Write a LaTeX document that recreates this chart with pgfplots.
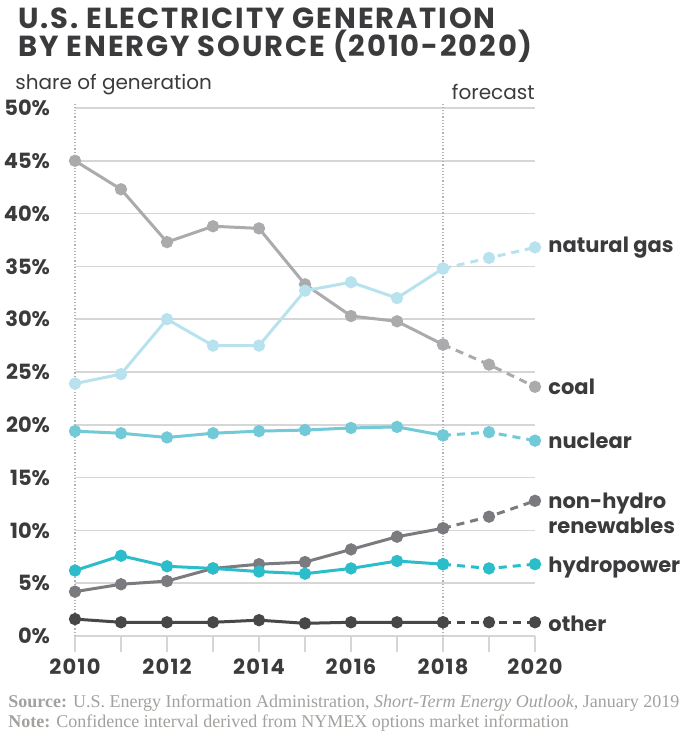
\documentclass[border=0pt]{standalone}
\usepackage{fontspec}
\setmainfont{Poppins}
\newfontfamily\titlefont[LetterSpace=6.5]{Poppins}
\newfontfamily\srcfont{Liberation Serif}
\usepackage{pgfplots}
\pgfplotsset{compat=1.18}

\definecolor{txt}{HTML}{3B3B3D}
\definecolor{gridc}{HTML}{D6D6D6}
\definecolor{srcc}{HTML}{A3A09D}
\definecolor{coalc}{HTML}{ABABAE}
\definecolor{gasc}{HTML}{B8E2EE}
\definecolor{nucc}{HTML}{72C9D8}
\definecolor{hydc}{HTML}{2BBDCA}
\definecolor{renc}{HTML}{7B7B7F}
\definecolor{othc}{HTML}{47474A}

\pgfplotsset{
  hist/.style={line width=1.5pt, mark=*, mark size=2.3pt, mark options={solid}},
  fc/.style={line width=1.5pt, mark=*, mark size=2.3pt, mark options={solid}, dash pattern=on 4pt off 3pt},
}

\begin{document}
\begin{tikzpicture}
\begin{axis}[
  at={(0,0)}, anchor=south west,
  scale only axis, width=230pt, height=264pt,
  xmin=2010, xmax=2020, ymin=0, ymax=50,
  clip=false,
  axis line style={draw=none},
  ymajorgrids, grid style={color=gridc, line width=0.8pt},
  ytick={0,5,...,50},
  yticklabels={0\%,5\%,10\%,15\%,20\%,25\%,30\%,35\%,40\%,45\%,50\%},
  ytick style={draw=none}, ytick pos=left,
  yticklabel style={xshift=-1pt},
  xtick={2010,2012,2014,2016,2018,2020},
  xticklabels={2010,2012,2014,2016,2018,2020},
  minor xtick={2011,2013,2015,2017,2019},
  xtick pos=bottom, tick align=outside,
  major tick length=8pt, minor tick length=8pt,
  xtick style={draw=gridc, line width=0.8pt},
  minor x tick style={draw=gridc, line width=0.8pt},
  ticklabel style={font=\bfseries\fontsize{10.5}{12}\selectfont, text=txt},
  xticklabel style={font=\bfseries\addfontfeatures{LetterSpace=6}\fontsize{10.5}{12}\selectfont},
]
% coal
\addplot[hist, color=coalc] coordinates {(2010,45.0)(2011,42.3)(2012,37.3)(2013,38.8)(2014,38.6)(2015,33.3)(2016,30.3)(2017,29.8)(2018,27.6)};
\addplot[fc, color=coalc] coordinates {(2018,27.6)(2019,25.7)(2020,23.6)};
% natural gas
\addplot[hist, color=gasc] coordinates {(2010,23.9)(2011,24.8)(2012,30.0)(2013,27.5)(2014,27.5)(2015,32.7)(2016,33.5)(2017,32.0)(2018,34.8)};
\addplot[fc, color=gasc] coordinates {(2018,34.8)(2019,35.8)(2020,36.8)};
% nuclear
\addplot[hist, color=nucc] coordinates {(2010,19.4)(2011,19.2)(2012,18.8)(2013,19.2)(2014,19.4)(2015,19.5)(2016,19.7)(2017,19.8)(2018,19.0)};
\addplot[fc, color=nucc] coordinates {(2018,19.0)(2019,19.3)(2020,18.5)};
% non-hydro renewables
\addplot[hist, color=renc] coordinates {(2010,4.2)(2011,4.9)(2012,5.2)(2013,6.4)(2014,6.8)(2015,7.0)(2016,8.2)(2017,9.4)(2018,10.2)};
\addplot[fc, color=renc] coordinates {(2018,10.2)(2019,11.3)(2020,12.8)};
% hydropower
\addplot[hist, color=hydc] coordinates {(2010,6.2)(2011,7.6)(2012,6.6)(2013,6.4)(2014,6.1)(2015,5.9)(2016,6.4)(2017,7.1)(2018,6.8)};
\addplot[fc, color=hydc] coordinates {(2018,6.8)(2019,6.4)(2020,6.8)};
% other
\addplot[hist, color=othc] coordinates {(2010,1.6)(2011,1.3)(2012,1.3)(2013,1.3)(2014,1.5)(2015,1.2)(2016,1.3)(2017,1.3)(2018,1.3)};
\addplot[fc, color=othc] coordinates {(2018,1.3)(2019,1.3)(2020,1.3)};

\draw[gray!60, densely dotted, line width=0.6pt] (axis cs:2010,0) -- (axis cs:2010,50.5);
\draw[gray!60, densely dotted, line width=0.6pt] (axis cs:2018,0) -- (axis cs:2018,50.5);

\begin{scope}[every node/.style={anchor=west, inner sep=0pt, text=txt, font=\bfseries\fontsize{10.5}{12.5}\selectfont}]
\node at (axis cs:2020,36.8) [xshift=6.5pt] {natural gas};
\node at (axis cs:2020,23.6) [xshift=6.5pt] {coal};
\node at (axis cs:2020,18.5) [xshift=6.5pt] {nuclear};
\node at (axis cs:2020,11.6) [xshift=6.5pt, align=left] {non-hydro\\renewables};
\node at (axis cs:2020,6.5) [xshift=6.5pt] {hydropower};
\node at (axis cs:2020,1.2) [xshift=6.5pt] {other};
\end{scope}
\end{axis}

\node[anchor=base west, inner sep=0pt, text=txt, align=left, font=\titlefont\bfseries\fontsize{14.5}{12.5}\selectfont] at (-28.5pt,289.5pt) {U.S. ELECTRICITY GENERATION\\BY ENERGY SOURCE (2010-2020)};
\node[anchor=base west, inner sep=0pt, text=txt, font=\fontsize{10}{12}\selectfont] at (-30pt,273pt) {share of generation};
\node[anchor=base east, inner sep=0pt, text=txt, font=\fontsize{10}{12}\selectfont] at (230pt,268pt) {forecast};
\node[anchor=base west, inner sep=0pt, text=srcc, font=\srcfont\fontsize{9}{11}\selectfont] at (-33.5pt,-35.5pt) {\textbf{Source:} U.S. Energy Information Administration, \textit{Short-Term Energy Outlook}, January 2019};
\node[anchor=base west, inner sep=0pt, text=srcc, font=\srcfont\fontsize{9}{11}\selectfont] at (-33.5pt,-45.5pt) {\textbf{Note:} Confidence interval derived from NYMEX options market information};

\pgfresetboundingbox
\useasboundingbox (-37.5pt,-50.5pt) rectangle (308pt,318pt);
\end{tikzpicture}
\end{document}
